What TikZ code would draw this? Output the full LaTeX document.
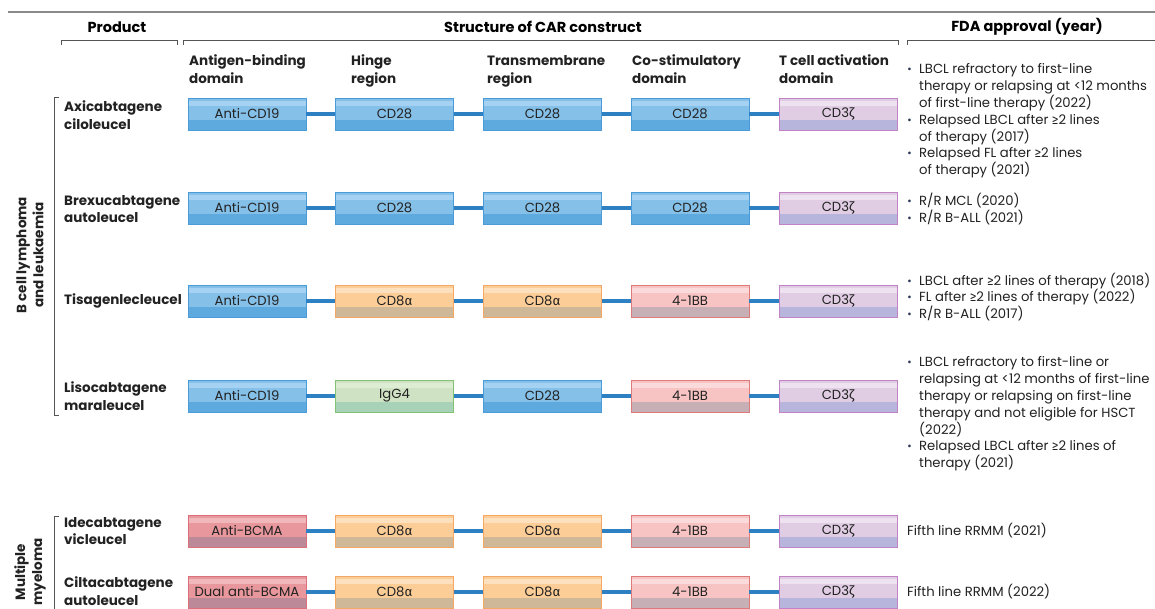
\documentclass[tikz,border=0pt]{standalone}
\usepackage{fontspec}
\setmainfont{Poppins}
\newfontfamily\grk{Fira Sans}
\definecolor{txt}{HTML}{222222}
\definecolor{bulc}{HTML}{2B3A55}
\definecolor{rulec}{HTML}{8A8A8A}
\definecolor{brkc}{HTML}{555555}
\definecolor{connc}{HTML}{2D80C2}
\definecolor{bluebd}{HTML}{4A9BD8}\definecolor{bluehi}{HTML}{A5D2F2}\definecolor{bluemid}{HTML}{85C0E8}\definecolor{bluelo}{HTML}{5EA9DE}
\definecolor{orabd}{HTML}{F5A865}\definecolor{orahi}{HTML}{FDE0BD}\definecolor{oramid}{HTML}{FCCD96}\definecolor{oralo}{HTML}{CFB897}
\definecolor{pinkbd}{HTML}{DF7A7A}\definecolor{pinkhi}{HTML}{FADADA}\definecolor{pinkmid}{HTML}{F7C4C3}\definecolor{pinklo}{HTML}{C7B0B5}
\definecolor{redbd}{HTML}{D9707A}\definecolor{redhi}{HTML}{F1B8BB}\definecolor{redmid}{HTML}{E8979C}\definecolor{redlo}{HTML}{BB8997}
\definecolor{purbd}{HTML}{C283C6}\definecolor{purhi}{HTML}{EFE2F0}\definecolor{purmid}{HTML}{E0CDE4}\definecolor{purlo}{HTML}{B8B5DC}
\definecolor{grnbd}{HTML}{82C274}\definecolor{grnhi}{HTML}{DCEDD3}\definecolor{grnmid}{HTML}{CFE3C4}\definecolor{grnlo}{HTML}{A8D2B8}
\newcommand{\bul}{\makebox[12pt][l]{\hspace{0.5pt}{\grk\fontsize{12}{12}\selectfont\color{bulc}•}}}
\newcommand{\ind}{\hspace*{12pt}}
\newcommand{\zet}{{\grk ζ}}
\newcommand{\alp}{{\grk α}}
\newcommand{\gesym}{{\grk ≥}}
\begin{document}
\begin{tikzpicture}[x=1pt,y=-1pt,
  cbox/.style={draw, line width=0.8pt, minimum width=118pt, minimum height=32pt, inner sep=0pt,
     font=\fontsize{13.2}{16}\selectfont, text=txt},
  band/.style n args={4}{cbox, draw=#1, fill=#3, path picture={
     \fill[#4] (path picture bounding box.south west) rectangle ([yshift=10pt]path picture bounding box.south east);
     \fill[#2] ([yshift=-2.5pt]path picture bounding box.north west) rectangle ([yshift=-7.5pt]path picture bounding box.north east);}},
  bluebox/.style={band={bluebd}{bluehi}{bluemid}{bluelo}},
  orabox/.style={band={orabd}{orahi}{oramid}{oralo}},
  pinkbox/.style={band={pinkbd}{pinkhi}{pinkmid}{pinklo}},
  redbox/.style={band={redbd}{redhi}{redmid}{redlo}},
  purbox/.style={band={purbd}{purhi}{purmid}{purlo}},
  grnbox/.style={band={grnbd}{grnhi}{grnmid}{grnlo}},
  conn/.style={line width=3.8pt, connc},
  head/.style={font=\bfseries\fontsize{14.5}{18}\selectfont, text=black, inner sep=0pt},
  colhead/.style={font=\bfseries\fontsize{13.5}{18}\selectfont, text=txt, anchor=base west, align=left, inner sep=0pt},
  prod/.style={font=\bfseries\fontsize{13.5}{17.5}\selectfont, text=txt, anchor=west, align=left, inner sep=0pt},
  group/.style={font=\bfseries\fontsize{13.5}{17}\selectfont, text=txt, align=center, rotate=90, inner sep=0pt},
  fda/.style={font=\fontsize{13.2}{16.8}\selectfont, text=txt, anchor=west, align=left, inner sep=0pt},
  brk/.style={brkc, line width=0.9pt}
]
\useasboundingbox (0,0) rectangle (1155,608);
\clip (0,0) rectangle (1155,608);
\fill[white] (0,0) rectangle (1155,608);

% top rule and headers
\draw[rulec, line width=1.4pt] (8,12) -- (1160,12);
\node[head] (hprod) at (117,27) {Product};
\node[head] (hcar) at (543,27) {Structure of CAR construct};
\node[head] (hfda) at (1027,27) {FDA approval (year)};
\draw[brk] (61,45) -- (61,40) -- (177,40) -- (177,45);
\draw[brk] (183,45) -- (183,40) -- (898,40) -- (898,45);
\draw[brk] (907,45) -- (907,40) -- (1160,40);

% column headers
\node[colhead] (c1) at (189,83) {Antigen-binding\\domain};
\node[colhead] (c2) at (351,83) {Hinge\\region};
\node[colhead] (c3) at (487,83) {Transmembrane\\region};
\node[colhead] (c4) at (632,83) {Co-stimulatory\\domain};
\node[colhead] (c5) at (779,83) {T cell activation\\domain};

% group labels and brackets
\node[group] (g1) at (30,255) {B cell lymphoma\\and leukaemia};
\draw[brk] (59,97) -- (54,97) -- (54,415) -- (59,415);
\node[group] (g2) at (30,572) {Multiple\\myeloma};
\draw[brk] (59,516) -- (54,516) -- (54,612);

% product names
\node[prod] (p1) at (64,115) {Axicabtagene\\ciloleucel};
\node[prod] (p2) at (64,209) {Brexucabtagene\\autoleucel};
\node[prod] (p3) at (64,301) {Tisagenlecleucel};
\node[prod] (p4) at (64,396) {Lisocabtagene\\maraleucel};
\node[prod] (p5) at (64,531) {Idecabtagene\\vicleucel};
\node[prod] (p6) at (64,591) {Ciltacabtagene\\autoleucel};

% row 1
\node[bluebox] (a1) at (247,114) {Anti-CD19};
\node[bluebox] (a2) at (394.5,114) {CD28};
\node[bluebox] (a3) at (542.5,114) {CD28};
\node[bluebox] (a4) at (690,114) {CD28};
\node[purbox] (a5) at (838,114) {CD3\zet};
% row 2
\node[bluebox] (b1) at (247,208) {Anti-CD19};
\node[bluebox] (b2) at (394.5,208) {CD28};
\node[bluebox] (b3) at (542.5,208) {CD28};
\node[bluebox] (b4) at (690,208) {CD28};
\node[purbox] (b5) at (838,208) {CD3\zet};
% row 3
\node[bluebox] (t1) at (247,301) {Anti-CD19};
\node[orabox] (t2) at (394.5,301) {CD8\alp};
\node[orabox] (t3) at (542.5,301) {CD8\alp};
\node[pinkbox] (t4) at (690,301) {4-1BB};
\node[purbox] (t5) at (838,301) {CD3\zet};
% row 4
\node[bluebox] (l1) at (247,396) {Anti-CD19};
\node[grnbox] (l2) at (394.5,396) {IgG4};
\node[bluebox] (l3) at (542.5,396) {CD28};
\node[pinkbox] (l4) at (690,396) {4-1BB};
\node[purbox] (l5) at (838,396) {CD3\zet};
% row 5
\node[redbox] (i1) at (247,531) {Anti-BCMA};
\node[orabox] (i2) at (394.5,531) {CD8\alp};
\node[orabox] (i3) at (542.5,531) {CD8\alp};
\node[pinkbox] (i4) at (690,531) {4-1BB};
\node[purbox] (i5) at (838,531) {CD3\zet};
% row 6
\node[redbox] (k1) at (247,592) {Dual anti-BCMA};
\node[orabox] (k2) at (394.5,592) {CD8\alp};
\node[orabox] (k3) at (542.5,592) {CD8\alp};
\node[pinkbox] (k4) at (690,592) {4-1BB};
\node[purbox] (k5) at (838,592) {CD3\zet};

\foreach \r in {a,b,t,l,i,k}{
  \draw[conn] (\r1.east) -- (\r2.west);
  \draw[conn] (\r2.east) -- (\r3.west);
  \draw[conn] (\r3.east) -- (\r4.west);
  \draw[conn] (\r4.east) -- (\r5.west);
}

% FDA approvals
\node[fda] (f1) at (907,121) {\bul LBCL refractory to first-line\\\ind therapy or relapsing at <12 months\\\ind of first-line therapy (2022)\\\bul Relapsed LBCL after \gesym2 lines\\\ind of therapy (2017)\\\bul Relapsed FL after \gesym2 lines\\\ind of therapy (2021)};
\node[fda] (f2) at (907,209) {\bul R/R MCL (2020)\\\bul R/R B-ALL (2021)};
\node[fda] (f3) at (907,297) {\bul LBCL after \gesym2 lines of therapy (2018)\\\bul FL after \gesym2 lines of therapy (2022)\\\bul R/R B-ALL (2017)};
\node[fda] (f4) at (907,414) {\bul LBCL refractory to first-line or\\\ind relapsing at <12 months of first-line\\\ind therapy or relapsing on first-line\\\ind therapy and not eligible for HSCT\\\ind (2022)\\\bul Relapsed LBCL after \gesym2 lines of\\\ind therapy (2021)};
\node[fda] (f5) at (907,531) {Fifth line RRMM (2021)};
\node[fda] (f6) at (907,592) {Fifth line RRMM (2022)};
\end{tikzpicture}
\end{document}
